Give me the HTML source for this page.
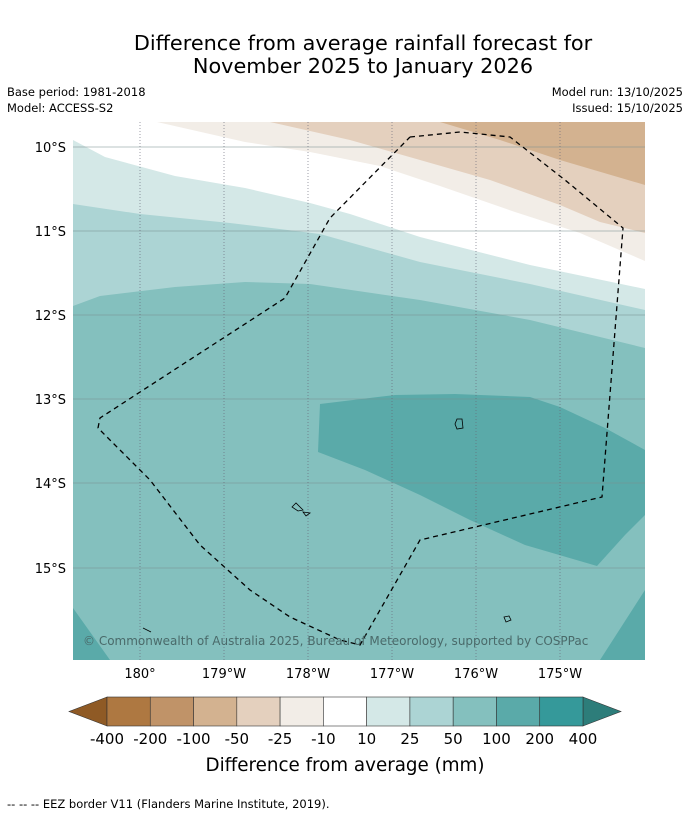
<!DOCTYPE html>
<html><head><meta charset="utf-8"><style>
body{margin:0;background:#fff;font-family:"Liberation Sans","DejaVu Sans",sans-serif}
</style></head><body>
<svg width="690" height="816" viewBox="0 0 690 816" xmlns="http://www.w3.org/2000/svg" font-family="DejaVu Sans, Liberation Sans, sans-serif">
<text x="363" y="50" font-size="20.8" text-anchor="middle">Difference from average rainfall forecast for</text>
<text x="363" y="73" font-size="20.8" text-anchor="middle">November 2025 to January 2026</text>
<text x="7" y="96" font-size="11.5">Base period: 1981-2018</text>
<text x="7" y="112" font-size="11.5">Model: ACCESS-S2</text>
<text x="683" y="96" font-size="11.5" text-anchor="end">Model run: 13/10/2025</text>
<text x="683" y="112" font-size="11.5" text-anchor="end">Issued: 15/10/2025</text>
<defs><clipPath id="mc"><rect x="73" y="122" width="572" height="538"/></clipPath></defs>
<g clip-path="url(#mc)">
<rect x="73" y="122" width="572" height="538" fill="#84c0be"/>
<polygon fill="#5aaaa9" points="320,404 395,395 455,394 530,397 560,407 605,428 645,450 645,515 625,535 597,566 525,545 470,520 420,495 365,470 318,452"/>
<polygon fill="#5aaaa9" points="600,660 645,590 645,660"/>
<polygon fill="#5aaaa9" points="73,608 110,660 73,660"/>
<polygon fill="#acd4d4" points="73,306 100,296 175,287 245,282 310,284 420,300 530,320 645,348 645,122 73,122"/>
<polygon fill="#d4e8e7" points="73,204 140,214 230,223 320,234 420,262 530,284 645,310 645,122 73,122"/>
<polygon fill="#ffffff" points="73,140 105,157 175,176 245,188 310,203 350,214 420,237 530,265 645,289 645,122 73,122"/>
<polygon fill="#f2ede7" points="157,122 245,142 310,152 380,166 440,186 515,212 580,233 645,261 645,122"/>
<polygon fill="#e4d0be" points="270,122 350,140 420,160 490,180 560,205 600,222 645,233 645,122"/>
<polygon fill="#d3b290" points="440,122 500,140 560,160 645,185 645,122"/>
<g stroke="#7a8f8f" stroke-width="0.8" opacity="0.7">
<line x1="73" x2="645" y1="147" y2="147"/><line x1="73" x2="645" y1="231" y2="231"/><line x1="73" x2="645" y1="315" y2="315"/><line x1="73" x2="645" y1="399" y2="399"/><line x1="73" x2="645" y1="483" y2="483"/><line x1="73" x2="645" y1="568" y2="568"/>
</g>
<g stroke="#667" stroke-width="0.8" stroke-dasharray="1,2" opacity="0.8">
<line x1="140" x2="140" y1="122" y2="660"/><line x1="224" x2="224" y1="122" y2="660"/><line x1="308" x2="308" y1="122" y2="660"/><line x1="392" x2="392" y1="122" y2="660"/><line x1="476" x2="476" y1="122" y2="660"/><line x1="560" x2="560" y1="122" y2="660"/>
</g>
<polyline fill="none" stroke="#000" stroke-width="1.3" stroke-dasharray="5,4" points="410,137 460,132 510,137 565,180 623,228 602,497 420,540 360,645 340,640 290,617 250,590 200,545 150,480 98,428 100,418 285,298 330,218 410,137"/>
<g fill="none" stroke="#000" stroke-width="0.8">
<path d="M457,419 L462,419 L463,428 L457,429 L455,424 Z"/>
<path d="M292,507 L296,503 L303,510 L298,511 Z"/><path d="M303,512 L310,513 L306,516 Z"/>
<path d="M504,617 L509,616 L511,620 L506,622 Z"/><path d="M143,628 L151,632"/>
</g>
<text x="83" y="645" font-size="12" fill="#4a6a6a">© Commonwealth of Australia 2025, Bureau of Meteorology, supported by COSPPac</text>
</g>
<g font-size="13" text-anchor="end">
<text x="66" y="152">10°S</text><text x="66" y="236">11°S</text><text x="66" y="320">12°S</text><text x="66" y="404">13°S</text><text x="66" y="488">14°S</text><text x="66" y="573">15°S</text>
</g>
<g font-size="13" text-anchor="middle">
<text x="140" y="678">180°</text><text x="224" y="678">179°W</text><text x="308" y="678">178°W</text><text x="392" y="678">177°W</text><text x="476" y="678">176°W</text><text x="560" y="678">175°W</text>
</g>
<g id="cb" stroke="#333" stroke-width="0.6"></g>
<g id="cbl" font-size="15" text-anchor="middle"></g>
<text x="345" y="771" font-size="18.3" text-anchor="middle">Difference from average (mm)</text>
<text x="7" y="808" font-size="11.5">--  --  -- EEZ border V11 (Flanders Marine Institute, 2019).</text>
</svg>
<script>
const levels=["-400","-200","-100","-50","-25","-10","10","25","50","100","200","400"];
const colors=["#ae7841","#c09368","#d3b290","#e4d0be","#f2ede7","#ffffff","#d4e8e7","#acd4d4","#84c0be","#5aaaa9","#35999a"];
const NS="http://www.w3.org/2000/svg";
const cb=document.getElementById('cb'),cbl=document.getElementById('cbl');
const x0=107,x1=583,y0=697,y1=726,w=(x1-x0)/colors.length;
let t=document.createElementNS(NS,'polygon');
t.setAttribute('points',`${x0},${y0} ${x0},${y1} 69,${(y0+y1)/2}`);t.setAttribute('fill','#8f5a25');


cb.appendChild(t);
t=document.createElementNS(NS,'polygon');
t.setAttribute('points',`${x1},${y0} ${x1},${y1} 621,${(y0+y1)/2}`);t.setAttribute('fill','#2d7d7a');


cb.appendChild(t);
colors.forEach((c,i)=>{const r=document.createElementNS(NS,'rect');
r.setAttribute('x',x0+i*w);r.setAttribute('y',y0);r.setAttribute('width',w);r.setAttribute('height',y1-y0);r.setAttribute('fill',c);


cb.appendChild(r);});
levels.forEach((l,i)=>{const tx=document.createElementNS(NS,'text');
tx.setAttribute('x',x0+i*w);tx.setAttribute('y',744);tx.textContent=l;


cbl.appendChild(tx);});
</script>
</body></html>
